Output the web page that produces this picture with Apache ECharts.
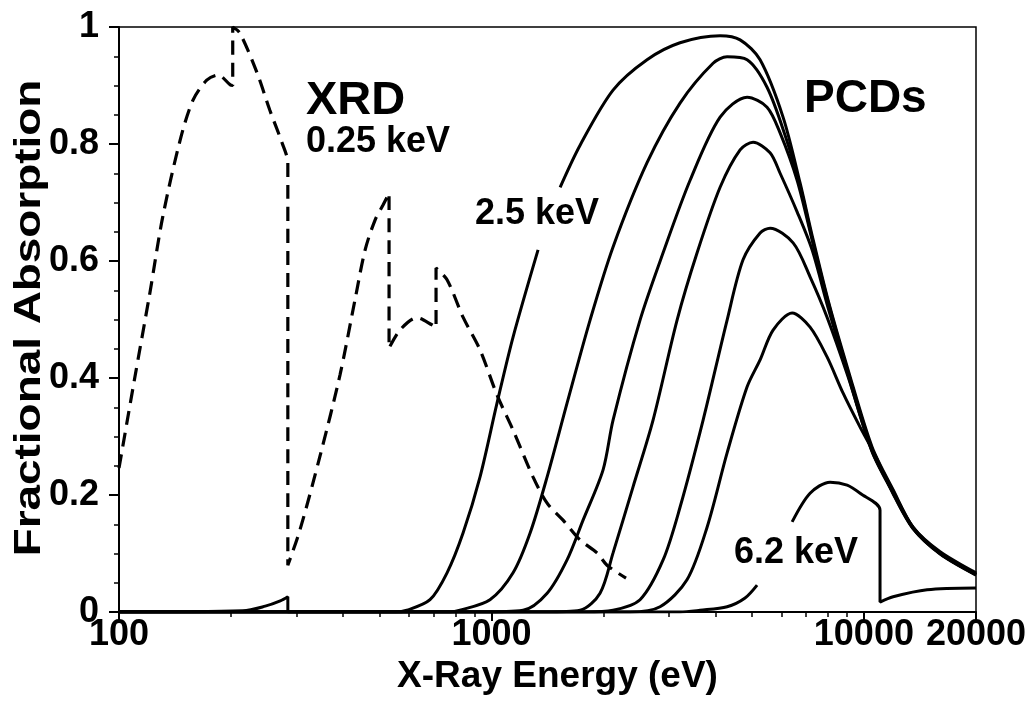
<!DOCTYPE html>
<html>
<head>
<meta charset="utf-8">
<script src="https://cdn.jsdelivr.net/npm/echarts@6/dist/echarts.min.js"></script>
<style>
  html, body { margin: 0; padding: 0; background: #fff; }
  #chart { width: 1033px; height: 706px; }
</style>
</head>
<body>
<div id="chart"></div>
<script>
// XRD (dashed) - energy in eV, fractional absorption
var xrdEnergy = [100, 110, 121, 131, 146, 158, 172, 184.5, 199, 202, 202, 211, 235, 254, 274, 284, 284,
  306, 347, 392, 430, 458, 487, 512, 531, 531, 568, 631, 692, 710, 710, 760, 839, 932, 1035,
  1143, 1293, 1411, 1557, 1730, 1921, 2043, 2298];
var xrdAbs = [0.246, 0.397, 0.545, 0.675, 0.807, 0.875, 0.909, 0.918, 0.901, 0.90, 1.0, 0.990, 0.921, 0.858, 0.802, 0.768, 0.080,
  0.140, 0.268, 0.405, 0.533, 0.619, 0.670, 0.696, 0.716, 0.451, 0.482, 0.503, 0.491, 0.486, 0.588, 0.568, 0.504, 0.448, 0.371,
  0.311, 0.231, 0.186, 0.157, 0.123, 0.101, 0.080, 0.058];

// PCDs (solid), null = gap under a label
var pcd1Energy = [100, 215, 247, 271, 284, 284, 551, 593, 684, 760, 839, 932, 1035, 1143, 1334, 1420, 1529, 1730,
  2121, 2617, 3209, 4111, 4652, 5264, 6067, 6743, 7260, 8015, 9070, 10520, 11980, 13560, 16020, 20000];
var pcd1Abs = [0, 0.002, 0.010, 0.019, 0.026, 0, 0, 0.003, 0.021, 0.067, 0.135, 0.231, 0.357, 0.470, 0.619, null, 0.726, 0.798,
  0.892, 0.944, 0.973, 0.985, 0.978, 0.944, 0.846, 0.733, 0.644, 0.533, 0.414, 0.282, 0.209, 0.145, 0.103, 0.067];

var pcd2Energy = [100, 774, 823, 991, 1143, 1270, 1411, 1596, 1840, 2121, 2617, 3209, 3936, 4293, 4858, 5495, 6143,
  6743, 7260, 8015, 9070, 10520, 11980, 13560, 16020, 20000];
var pcd2Abs = [0, 0, 0.003, 0.021, 0.067, 0.135, 0.231, 0.357, 0.499, 0.624, 0.768, 0.870, 0.938, 0.949, 0.944, 0.897, 0.815,
  0.728, 0.639, 0.530, 0.410, 0.279, 0.207, 0.144, 0.101, 0.065];

var pcd3Energy = [100, 932, 1216, 1411, 1596, 1762, 1994, 2121, 2506, 2890, 3415, 4111, 4858, 5495, 5957, 6618, 7260,
  8015, 9070, 10520, 11980, 13560, 16020, 20000];
var pcd3Abs = [0, 0, 0.003, 0.032, 0.089, 0.157, 0.243, 0.328, 0.499, 0.614, 0.738, 0.846, 0.880, 0.863, 0.819, 0.738, 0.636,
  0.526, 0.409, 0.277, 0.205, 0.144, 0.101, 0.065];

var pcd4Energy = [100, 1393, 1730, 1957, 2121, 2400, 2716, 3151, 3566, 4111, 4652, 5041, 5599, 5957, 6618, 7260, 8015,
  9070, 10520, 11980, 13560, 16020, 20000];
var pcd4Abs = [0, 0, 0.003, 0.032, 0.101, 0.214, 0.328, 0.499, 0.614, 0.726, 0.790, 0.803, 0.785, 0.750, 0.684, 0.619, 0.520,
  0.405, 0.275, 0.205, 0.143, 0.100, 0.064];

var pcd5Energy = [100, 1784, 2121, 2506, 2890, 3209, 3701, 4293, 4737, 5264, 5599, 6457, 7170, 7964, 9070, 10520, 11980,
  13560, 16020, 20000];
var pcd5Abs = [0, 0, 0.003, 0.021, 0.089, 0.179, 0.328, 0.499, 0.602, 0.648, 0.656, 0.631, 0.573, 0.504, 0.402, 0.274, 0.203,
  0.143, 0.100, 0.064];

var pcd6Energy = [100, 2356, 2836, 3350, 3793, 4293, 4858, 5264, 5704, 6417, 7170, 7964, 8795, 9768, 10720, 11980, 13560,
  16020, 20000];
var pcd6Abs = [0, 0, 0.009, 0.055, 0.145, 0.272, 0.385, 0.431, 0.482, 0.511, 0.487, 0.436, 0.374, 0.316, 0.268, 0.202, 0.142,
  0.099, 0.063];

var pcd7Energy = [100, 3209, 3632, 4293, 4797, 5167, 5700, 6417, 7170, 8114, 9015, 9768, 11050, 11050, 11980, 14780, 20000];
var pcd7Abs = [0, 0, 0.003, 0.009, 0.024, 0.046, null, 0.154, 0.203, 0.222, 0.217, 0.203, 0.174, 0.017, 0.026, 0.038, 0.041];

// axis ticks
var majorTicks = [100, 1000, 10000, 20000];
var minorTicks = [200, 300, 400, 500, 600, 700, 800, 900, 2000, 3000, 4000, 5000, 6000, 7000, 8000, 9000];

var FONT = "'Liberation Sans', Arial, sans-serif";

function zip(xs, ys) {
  return xs.map(function (x, i) { return [x, ys[i] === null ? '-' : ys[i]]; });
}

function solid(name, xs, ys) {
  return {
    name: name,
    type: 'line',
    data: zip(xs, ys),
    showSymbol: false,
    smooth: 0.3,
    connectNulls: false,
    lineStyle: { color: '#000', width: 3 }
  };
}

var chartDom = document.getElementById('chart');
var myChart = echarts.init(chartDom);
var option = {
  backgroundColor: '#fff',
  animation: false,
  grid: {
    left: 119, right: 57, top: 27, bottom: 94,
    outerBoundsMode: 'none',
    show: true, borderColor: '#000', borderWidth: 1.5
  },
  xAxis: [
    {
      type: 'log', logBase: 10, min: 100, max: 20000,
      position: 'bottom',
      axisLine: { show: true, lineStyle: { color: '#000', width: 2 } },
      axisTick: { show: true, customValues: majorTicks, length: 9, lineStyle: { color: '#000', width: 2 } },
      axisLabel: {
        customValues: majorTicks, color: '#000', fontSize: 36, fontWeight: 'bold',
        fontFamily: FONT, margin: 5,
        formatter: function (v) { return String(Math.round(v)); }
      },
      splitLine: { show: false },
      name: 'X-Ray Energy (eV)', nameLocation: 'middle', nameGap: 44,
      nameTextStyle: { color: '#000', fontSize: 37, fontWeight: 'bold', fontFamily: FONT, padding: [0, 0, 0, 20] }
    },
    {
      type: 'log', logBase: 10, min: 100, max: 20000,
      position: 'bottom',
      axisLine: { show: false },
      axisTick: { show: true, customValues: minorTicks, length: 5, lineStyle: { color: '#000', width: 1.5 } },
      axisLabel: { show: false },
      splitLine: { show: false }
    }
  ],
  yAxis: {
    type: 'value', min: 0, max: 1, interval: 0.2,
    axisLine: { show: true, lineStyle: { color: '#000', width: 2 } },
    axisTick: { show: true, length: 10, lineStyle: { color: '#000', width: 2 } },
    minorTick: { show: true, splitNumber: 4, length: 5, lineStyle: { color: '#000', width: 1.5 } },
    axisLabel: { color: '#000', fontSize: 36, fontWeight: 'bold', fontFamily: FONT, margin: 20 },
    splitLine: { show: false },
    minorSplitLine: { show: false }
  },
  series: [
    {
      name: 'XRD',
      type: 'line',
      data: zip(xrdEnergy, xrdAbs),
      showSymbol: false,
      smooth: 0.3,
      lineStyle: { color: '#000', width: 3.2, type: [14, 8] }
    },
    solid('PCD 2.5 keV', pcd1Energy, pcd1Abs),
    solid('PCD 2', pcd2Energy, pcd2Abs),
    solid('PCD 3', pcd3Energy, pcd3Abs),
    solid('PCD 4', pcd4Energy, pcd4Abs),
    solid('PCD 5', pcd5Energy, pcd5Abs),
    solid('PCD 6', pcd6Energy, pcd6Abs),
    solid('PCD 6.2 keV', pcd7Energy, pcd7Abs)
  ],
  graphic: [
    {
      type: 'text', x: 30, y: 318, rotation: Math.PI / 2, scaleX: 1.24,
      style: { text: 'Fractional Absorption', fill: '#000', font: 'bold 37px ' + FONT, align: 'center', verticalAlign: 'middle' }
    },
    { type: 'text', left: 306, top: 78, style: { text: 'XRD', fill: '#000', font: 'bold 47px ' + FONT } },
    { type: 'text', left: 306, top: 124, style: { text: '0.25 keV', fill: '#000', font: 'bold 36px ' + FONT } },
    { type: 'text', left: 804, top: 76, style: { text: 'PCDs', fill: '#000', font: 'bold 46px ' + FONT } },
    { type: 'text', left: 475, top: 196, style: { text: '2.5 keV', fill: '#000', font: 'bold 36px ' + FONT } },
    { type: 'text', left: 734, top: 535, style: { text: '6.2 keV', fill: '#000', font: 'bold 36px ' + FONT } }
  ]
};
myChart.setOption(option);
</script>
</body>
</html>
